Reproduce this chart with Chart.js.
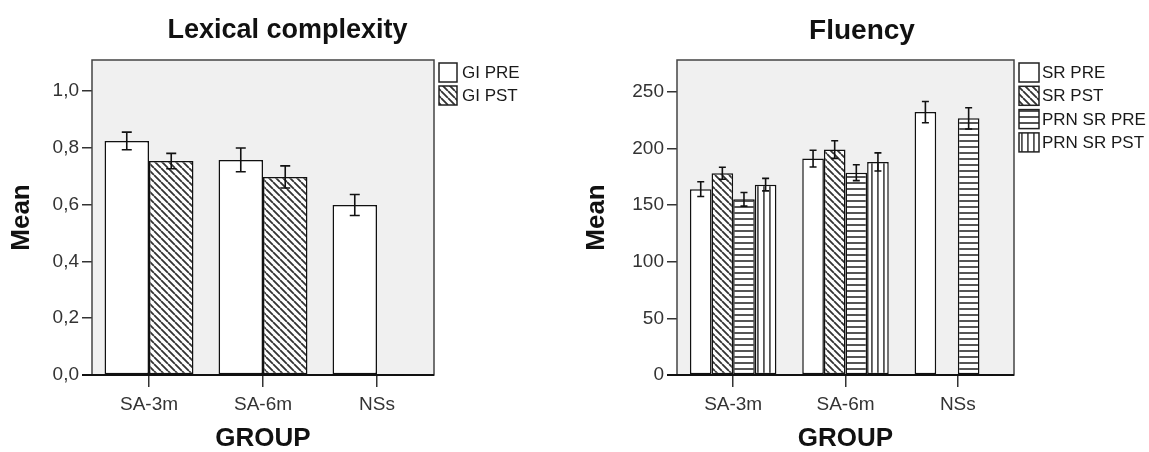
<!DOCTYPE html>
<html><head><meta charset="utf-8">
<script src="https://cdn.jsdelivr.net/npm/chart.js@4"></script>
<style>
html,body{margin:0;padding:0;background:#fff;}
#wrap{position:relative;width:1149px;height:452px;overflow:hidden;}
#c1{position:absolute;left:0;top:0;}
#c2{position:absolute;left:575px;top:0;}
</style></head><body>
<div id="wrap">
<canvas id="c1" width="575" height="452"></canvas>
<canvas id="c2" width="574" height="452"></canvas>
</div>
<script>
// ---------- data ----------
const groups = ['SA-3m', 'SA-6m', 'NSs'];

const lexLabels = ['GI PRE', 'GI PST'];
const lexPre = [0.825, 0.758, 0.599];
const lexPreErr = [0.031, 0.042, 0.037];
const lexPst = [0.754, 0.698, 0];
const lexPstErr = [0.027, 0.039, 0];
const lexYTicks = ['0,0', '0,2', '0,4', '0,6', '0,8', '1,0'];

const fluLabels = ['SR PRE', 'SR PST', 'PRN SR PRE', 'PRN SR PST'];
const srPre = [164, 191, 232];
const srPreErr = [6.5, 7.4, 9.4];
const srPst = [178, 199, 0];
const srPstErr = [5.3, 7.8, 0];
const prnPre = [155, 178.5, 226.5];
const prnPreErr = [6, 7, 9.4];
const prnPst = [168, 188, 0];
const prnPstErr = [5.5, 8, 0];
const fluYTicks = ['0', '50', '100', '150', '200', '250'];

// ---------- styling helpers ----------
const FONT = "'Liberation Sans', Arial, sans-serif";

function makePattern(type) {
  const s = (type === 'diag') ? 7 : 6;
  const c = document.createElement('canvas');
  c.width = s; c.height = s;
  const g = c.getContext('2d');
  g.fillStyle = '#fff'; g.fillRect(0, 0, s, s);
  g.strokeStyle = '#333'; g.fillStyle = '#555';
  if (type === 'diag') {
    g.lineWidth = 1.8;
    g.beginPath();
    for (const k of [-s, 0, s]) { g.moveTo(k, 0); g.lineTo(k + s, s); }
    g.stroke();
  } else if (type === 'h') {
    g.fillRect(0, 2, s, 2);
  } else if (type === 'v') {
    g.fillRect(2, 0, 1.8, s);
  }
  return g.createPattern(c, 'repeat');
}

const framePlugin = {
  id: 'frame',
  beforeDraw(chart) {
    const { ctx, chartArea: a } = chart;
    ctx.save();
    ctx.fillStyle = '#f0f0f0';
    ctx.fillRect(a.left, a.top, a.right - a.left, a.bottom - a.top);
    ctx.restore();
  },
  afterDatasetsDraw(chart) {
    const { ctx, chartArea: a } = chart;
    ctx.save();
    ctx.strokeStyle = '#444'; ctx.lineWidth = 1.5;
    ctx.strokeRect(a.left, a.top, a.right - a.left, a.bottom - a.top);
    ctx.strokeStyle = '#111'; ctx.lineWidth = 2;
    ctx.beginPath(); ctx.moveTo(a.left - 10, a.bottom); ctx.lineTo(a.right, a.bottom); ctx.stroke();
    ctx.restore();
  }
};

const errorPlugin = {
  id: 'errorBars',
  afterDatasetsDraw(chart, args, opts) {
    const ctx = chart.ctx, y = chart.scales.y;
    chart.data.datasets.forEach((ds, i) => {
      const meta = chart.getDatasetMeta(i);
      meta.data.forEach((bar, j) => {
        const v = ds.data[j], e = ds.errors[j];
        if (v == null) return;
        const t = y.getPixelForValue(v + e), b = y.getPixelForValue(v - e);
        const hw = (v === 0) ? opts.zeroCap : opts.cap;
        ctx.save();
        ctx.strokeStyle = '#111'; ctx.lineWidth = 1.6;
        ctx.beginPath();
        ctx.moveTo(bar.x, t); ctx.lineTo(bar.x, b);
        ctx.moveTo(bar.x - hw, t); ctx.lineTo(bar.x + hw, t);
        ctx.moveTo(bar.x - hw, b); ctx.lineTo(bar.x + hw, b);
        ctx.stroke();
        ctx.restore();
      });
    });
  }
};

const legendPlugin = {
  id: 'sideLegend',
  afterDraw(chart, args, opts) {
    const { ctx, chartArea: a } = chart;
    ctx.save();
    ctx.font = opts.size + 'px ' + FONT;
    ctx.textBaseline = 'middle';
    chart.data.datasets.forEach((ds, i) => {
      const cy = a.top + opts.first + i * opts.pitch;
      const x = a.right + 5;
      ctx.fillStyle = ds.backgroundColor;
      ctx.fillRect(x, cy - opts.h / 2, opts.w, opts.h);
      ctx.strokeStyle = '#222'; ctx.lineWidth = 1.5;
      ctx.strokeRect(x, cy - opts.h / 2, opts.w, opts.h);
      ctx.fillStyle = '#1a1a1a';
      ctx.fillText(ds.label, a.right + 28, cy + 1);
    });
    ctx.restore();
  }
};

function buildChart(el, cfg) {
  const datasets = cfg.series.map((s, i) => ({
    label: cfg.labels[i],
    data: s.data,
    errors: s.err,
    yAxisID: 'y',
    xAxisID: 'x',
    backgroundColor: s.fill,
    borderColor: '#111',
    borderWidth: c => (c.raw ? 1.5 : 0),
    borderSkipped: false,
    categoryPercentage: cfg.catPct,
    barPercentage: 1
  }));
  return new Chart(el, {
    type: 'bar',
    data: { labels: groups, datasets },
    plugins: [framePlugin, errorPlugin, legendPlugin],
    options: {
      responsive: false,
      animation: false,
      events: [],
      layout: { padding: 0 },
      plugins: {
        legend: { display: false },
        tooltip: { enabled: false },
        title: {
          display: true, text: cfg.title, color: '#111',
          font: { family: FONT, size: cfg.titleSize, weight: 'bold' },
          padding: { top: 14, bottom: 60 - 14 - cfg.titleSize * 1.2 }
        },
        errorBars: { cap: cfg.cap, zeroCap: cfg.zeroCap },
        sideLegend: cfg.legend
      },
      scales: {
        x: {
          grid: { display: true, offset: false, drawOnChartArea: false, tickLength: 12, color: '#333', lineWidth: 1.5 },
          border: { display: false },
          ticks: { font: { family: FONT, size: 19 }, color: '#333', padding: 6, maxRotation: 0 },
          title: { display: true, text: 'GROUP', color: '#111', font: { family: FONT, size: 26, weight: 'bold', lineHeight: 1 }, padding: { top: 0, bottom: 0 } },
          afterFit: s => { s.height = 77; }
        },
        y: {
          position: 'left',
          min: 0, max: cfg.yMax,
          grid: { display: true, drawOnChartArea: false, tickLength: 10, color: '#333', lineWidth: 1.5 },
          border: { display: false },
          ticks: {
            stepSize: cfg.step, includeBounds: false, padding: 3,
            font: { family: FONT, size: 19 }, color: '#333',
            callback: (v) => cfg.yTicks[Math.round(v / cfg.step)]
          },
          title: { display: true, text: 'Mean', color: '#111', font: { family: FONT, size: 26, weight: 'bold', lineHeight: 1 }, padding: { top: 9, bottom: 0 } },
          afterFit: s => { s.width = cfg.yWidth; }
        },
        yR: {
          position: 'right',
          display: true,
          grid: { display: false },
          border: { display: false },
          ticks: { display: false },
          afterFit: s => { s.width = cfg.padRight; }
        }
      }
    }
  });
}

const white = '#ffffff';
buildChart(document.getElementById('c1'), {
  title: 'Lexical complexity', titleSize: 27,
  labels: lexLabels,
  series: [
    { data: lexPre, err: lexPreErr, fill: white },
    { data: lexPst, err: lexPstErr, fill: makePattern('diag') }
  ],
  catPct: 0.78, yMax: 1.11, step: 0.2, yTicks: lexYTicks,
  yWidth: 92, padRight: 575 - 434, cap: 5, zeroCap: 4.5,
  legend: { first: 12.5, pitch: 23, w: 18, h: 19, size: 17 }
});

buildChart(document.getElementById('c2'), {
  title: 'Fluency', titleSize: 28,
  labels: fluLabels,
  series: [
    { data: srPre, err: srPreErr, fill: white },
    { data: srPst, err: srPstErr, fill: makePattern('diag') },
    { data: prnPre, err: prnPreErr, fill: makePattern('h') },
    { data: prnPst, err: prnPstErr, fill: makePattern('v') }
  ],
  catPct: 0.77, yMax: 278, step: 50, yTicks: fluYTicks,
  yWidth: 102, padRight: 574 - 439, cap: 3.5, zeroCap: 2,
  legend: { first: 12.5, pitch: 23.3, w: 20, h: 19, size: 17 }
});
</script>
</body></html>
